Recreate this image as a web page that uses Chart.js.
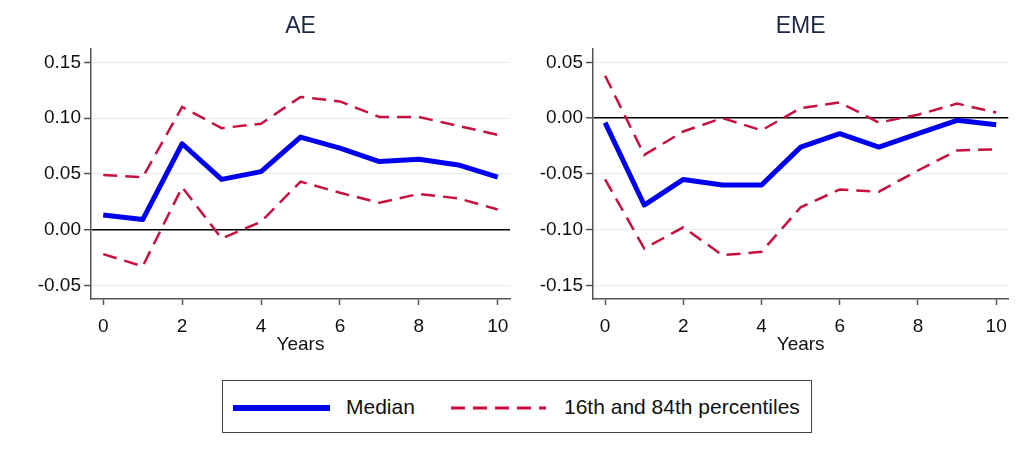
<!DOCTYPE html>
<html>
<head>
<meta charset="utf-8">
<script src="https://cdn.jsdelivr.net/npm/chart.js@4.4.1/dist/chart.umd.min.js"></script>
<style>
  body { margin: 0; background: #fff; font-family: "Liberation Sans", Arial, sans-serif; }
  #wrap { position: relative; width: 1017px; height: 450px; overflow: hidden; }
  #boxAE { position: absolute; left: 0; top: 0; }
  #boxEME { position: absolute; left: 507px; top: 0; }
  #legend { position: absolute; left: 222px; top: 380px; width: 590px; height: 53px;
            border: 1.5px solid #444; box-sizing: border-box; }
  #legend svg, #legend span { position: absolute; }
  #legend span { font-size: 21px; color: #111; line-height: 24px; top: 14px; white-space: nowrap; }
</style>
</head>
<body>
<div id="wrap">
  <div id="boxAE"><canvas id="chartAE" width="520" height="360"></canvas></div>
  <div id="boxEME"><canvas id="chartEME" width="510" height="360"></canvas></div>
  <div id="legend">
    <svg style="left:10px;top:21px" width="97" height="12"><line x1="0" y1="6" x2="97" y2="6" stroke="#0000ee" stroke-width="6"/></svg>
    <span style="left:123px">Median</span>
    <svg style="left:228px;top:21px" width="95" height="12"><line x1="0" y1="6" x2="95" y2="6" stroke="#c8103e" stroke-width="3" stroke-dasharray="14 8"/></svg>
    <span style="left:341px">16th and 84th percentiles</span>
  </div>
</div>
<script>
// horizon in years
const years = [0, 1, 2, 3, 4, 5, 6, 7, 8, 9, 10];
const xTicks = [0, 2, 4, 6, 8, 10];

// AE panel
const aeMedian = [0.013, 0.009, 0.077, 0.045, 0.052, 0.083, 0.073, 0.061, 0.063, 0.058, 0.047];
const aeUpper  = [0.049, 0.047, 0.110, 0.091, 0.095, 0.119, 0.115, 0.101, 0.101, 0.093, 0.085];
const aeLower  = [-0.022, -0.033, 0.038, -0.008, 0.007, 0.043, 0.033, 0.024, 0.032, 0.028, 0.018];
const aeTicks  = [-0.05, 0, 0.05, 0.10, 0.15];

// EME panel
const emeMedian = [-0.004, -0.078, -0.055, -0.060, -0.060, -0.026, -0.014, -0.026, -0.014, -0.002, -0.006];
const emeUpper  = [0.038, -0.033, -0.012, 0.000, -0.011, 0.009, 0.014, -0.004, 0.003, 0.013, 0.005];
const emeLower  = [-0.055, -0.117, -0.098, -0.123, -0.120, -0.080, -0.064, -0.066, -0.047, -0.029, -0.028];
const emeTicks  = [-0.15, -0.10, -0.05, 0, 0.05];

const BLUE = '#0000ee';
const RED = '#c8103e';
const AXIS = '#555';
const FONT = "'Liberation Sans', Arial, sans-serif";

function pts(vals) {
  return years.map((x, i) => ({ x: x, y: vals[i] }));
}

function makeChart(id, title, med, up, lo, yTicks, yMin, yMax, yWidth, padRight) {
  const ctx = document.getElementById(id);
  return new Chart(ctx, {
    type: 'line',
    data: {
      datasets: [
        { label: 'Median', data: pts(med), borderColor: BLUE, borderWidth: 5, pointRadius: 0, borderJoinStyle: 'round' },
        { label: '16th and 84th percentiles', data: pts(up), borderColor: RED, borderWidth: 2.5, borderDash: [14, 8], pointRadius: 0 },
        { label: '16th', data: pts(lo), borderColor: RED, borderWidth: 2.5, borderDash: [14, 8], pointRadius: 0 }
      ]
    },
    options: {
      responsive: false,
      animation: false,
      layout: { padding: { left: 0, right: padRight, top: 0, bottom: 0 } },
      plugins: {
        legend: { display: false },
        tooltip: { enabled: false },
        title: {
          display: true,
          text: title,
          fullSize: false,
          color: '#1c2842',
          font: { family: FONT, size: 23, weight: 'normal' },
          padding: { top: 13, bottom: 8.4 }
        }
      },
      scales: {
        x: {
          type: 'linear',
          min: -0.31,
          max: 10.31,
          afterBuildTicks: s => { s.ticks = xTicks.map(v => ({ value: v })); },
          afterFit: s => { s.height = 61; },
          grid: { color: 'rgba(0,0,0,0)', tickColor: AXIS, tickLength: 6, tickWidth: 1.5 },
          border: { color: AXIS, width: 1.5 },
          ticks: { color: '#111', padding: 10, maxRotation: 0, font: { family: FONT, size: 19 } },
          title: { display: true, text: 'Years', color: '#111', font: { family: FONT, size: 19 }, padding: { top: 0, bottom: 4 } }
        },
        y: {
          min: yMin,
          max: yMax,
          afterBuildTicks: s => { s.ticks = yTicks.map(v => ({ value: v })); },
          afterFit: s => { s.width = yWidth; },
          grid: {
            color: c => (c.tick && Math.abs(c.tick.value) < 1e-9) ? '#000' : '#e4eef1',
            lineWidth: c => (c.tick && Math.abs(c.tick.value) < 1e-9) ? 1.5 : 1,
            tickColor: AXIS,
            tickWidth: 1.5,
            tickLength: 7
          },
          border: { color: AXIS, width: 1.5 },
          ticks: {
            color: '#111',
            padding: 3,
            font: { family: FONT, size: 19 },
            callback: v => v.toFixed(2)
          }
        }
      }
    }
  });
}

makeChart('chartAE', 'AE', aeMedian, aeUpper, aeLower, aeTicks, -0.0623, 0.162, 91, 10);
makeChart('chartEME', 'EME', emeMedian, emeUpper, emeLower, emeTicks, -0.1623, 0.062, 86, 5);
</script>
</body>
</html>
